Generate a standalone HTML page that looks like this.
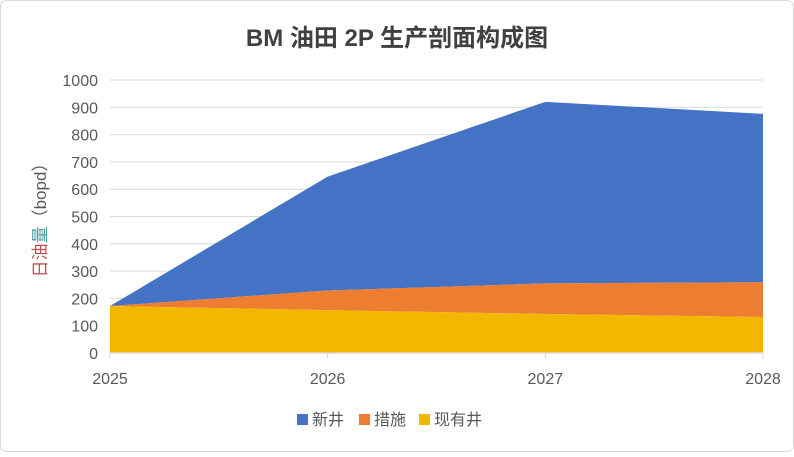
<!DOCTYPE html>
<html><head><meta charset="utf-8"><style>
body{margin:0;background:#fff;font-family:"Liberation Sans","Noto Sans CJK SC",sans-serif}
#c{position:relative;width:794px;height:452px}
</style></head><body>
<div id="c">
<svg id="s" width="794" height="452" font-family="Liberation Sans, Noto Sans CJK SC, sans-serif"></svg>
</div>
<script>
const categories=["2025","2026","2027","2028"];
const existing=[172,157,143,132];
const measures=[0,72,112,127];
const newWells=[0,417,665,617];
const yTicks=[0,100,200,300,400,500,600,700,800,900,1000];
const seriesNames=["新井","措施","现有井"];
const colors=["#4472c4","#ed7d31","#f2b800"];
const NS="http://www.w3.org/2000/svg";
const s=document.getElementById('s');
function mk(t,a,p){const e=document.createElementNS(NS,t);for(const k in a)e.setAttribute(k,a[k]);(p||s).appendChild(e);return e;}
const x0=110,x1=763,yB=353,yT=80;
const X=i=>x0+i*(x1-x0)/(categories.length-1);
const Y=v=>yB-v*(yB-yT)/1000;
let r=mk('rect',{x:0.5,y:0.5,width:793,height:451,rx:6,fill:'#fff',stroke:'#d9d9d9'});


let t=mk('text',{x:397,y:46,'text-anchor':'middle','font-size':24,'font-weight':'bold',fill:'#404040'});
t.textContent='BM 油田 2P 生产剖面构成图';


yTicks.forEach(v=>{
 if(v>0){let g=mk('line',{x1:x0,x2:x1,y1:Y(v),y2:Y(v),stroke:'#d9d9d9','stroke-width':1});
 
 }
 let l=mk('text',{x:98,y:Y(v)+6,'text-anchor':'end','font-size':16,fill:'#595959'});l.textContent=v;
 
 
});
const b1=existing, b2=existing.map((v,i)=>v+measures[i]), b3=b2.map((v,i)=>v+newWells[i]);
function area(top,bot,col,name){
 let d='M'+top.map((v,i)=>X(i)+','+Y(v)).join('L');
 for(let i=bot.length-1;i>=0;i--)d+='L'+X(i)+','+Y(bot[i]);
 let p=mk('path',{d:d+'Z',fill:col});
 
 
}
const zero=existing.map(()=>0);
area(b3,b2,colors[0],'area-new-wells');
area(b2,b1,colors[1],'area-measures');
area(b1,zero,colors[2],'area-existing-wells');
let ax=mk('line',{x1:x0,x2:x1,y1:yB,y2:yB,stroke:'#d9d9d9','stroke-width':1.5});


categories.forEach((c,i)=>{
 let tk=mk('line',{x1:X(i),x2:X(i),y1:yB,y2:yB+6,stroke:'#d9d9d9'});
 
 
 let l=mk('text',{x:X(i),y:384,'text-anchor':'middle','font-size':16,fill:'#595959'});l.textContent=c;
 
 
});
let yt=mk('text',{transform:'translate(46,216) rotate(-90)','text-anchor':'middle','font-size':17,fill:'#595959'});
yt.innerHTML='<tspan fill="#c0504d">日油</tspan><tspan fill="#4a9a9a">量</tspan>（bopd）';


const lx=[297,359,419];
seriesNames.forEach((n,i)=>{
 let g=mk('g',{});
 
 
 mk('rect',{x:lx[i],y:414,width:11,height:11,fill:colors[i]},g);
 let l=mk('text',{x:lx[i]+15,y:425,'font-size':16,fill:'#595959'},g);l.textContent=n;
});
</script>
</body></html>
